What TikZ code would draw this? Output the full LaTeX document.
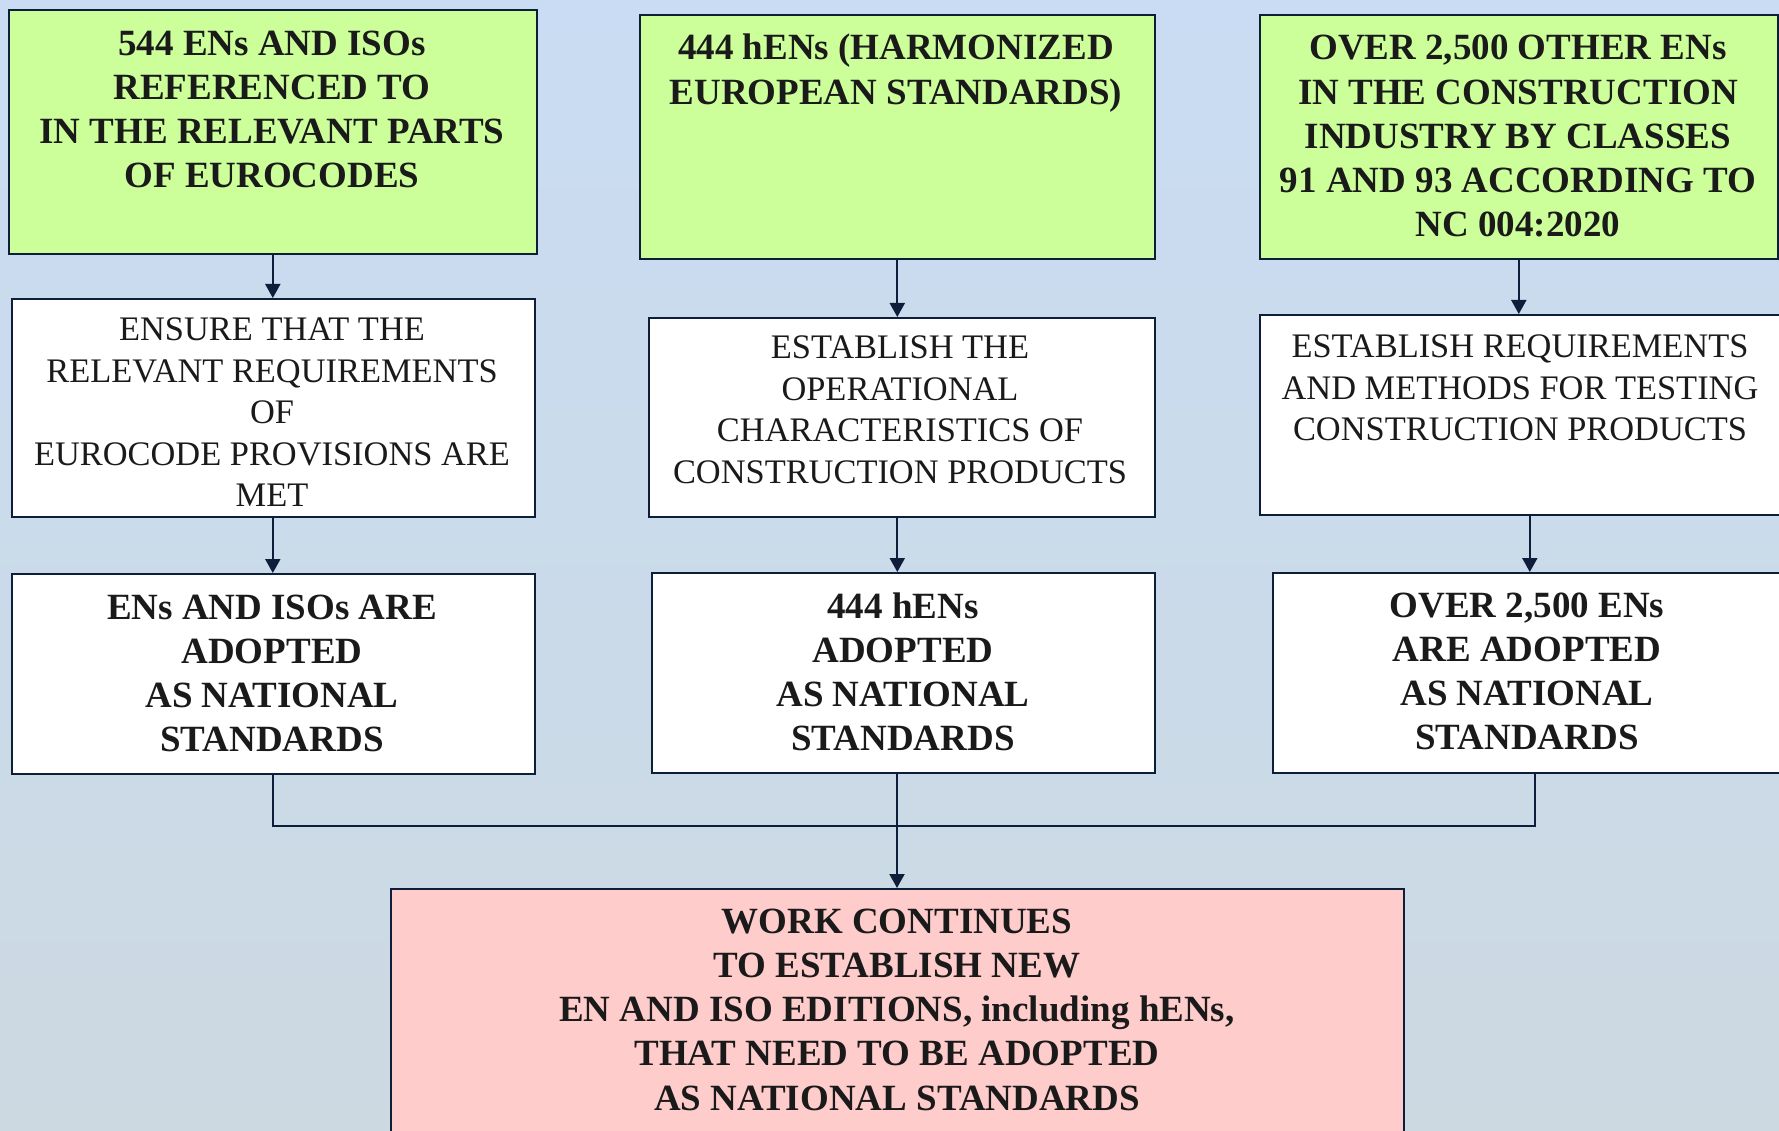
\documentclass[tikz,border=0pt]{standalone}
\usepackage{fontspec}
\setmainfont{Liberation Serif}
\usetikzlibrary{arrows.meta,calc}

\definecolor{edgeblue}{RGB}{12,30,58}
\definecolor{inkgray}{RGB}{26,26,26}
\definecolor{greenfill}{RGB}{204,255,153}
\definecolor{pinkfill}{RGB}{255,204,204}
\definecolor{skytop}{RGB}{201,220,243}
\definecolor{skymid}{RGB}{207,224,245}
\definecolor{skybot}{RGB}{204,217,225}

\tikzset{
  panel/.style={draw=edgeblue, line width=1.6pt, rectangle, inner sep=0pt},
  greenpanel/.style={panel, fill=greenfill},
  whitepanel/.style={panel, fill=white},
  pinkpanel/.style={panel, fill=pinkfill},
  headtext/.style={inner sep=0pt, anchor=north, align=center, text=inkgray,
    font=\bfseries\fontsize{37}{44.2}\selectfont},
  plaintext/.style={inner sep=0pt, anchor=north, align=center, text=inkgray,
    font=\fontsize{34.4}{41.5}\selectfont},
  flow/.style={draw=edgeblue, line width=2pt, -{Triangle[width=15pt,length=14pt]}},
  link/.style={draw=edgeblue, line width=2pt},
}

\begin{document}
\begin{tikzpicture}[x=1pt, y=-1pt]
\useasboundingbox (0,0) rectangle (1779,1131);
\clip (0,0) rectangle (1779,1131);

% sky background
\shade[top color=skytop, middle color=skymid, bottom color=skybot]
  (0,0) rectangle (1779,1131);

% first row: sources of standards
\node[greenpanel, minimum width=528pt, minimum height=244pt, anchor=north west] (a1) at (8,9) {};
\node[greenpanel, minimum width=515pt, minimum height=244pt, anchor=north west] (b1) at (639,14) {};
\node[greenpanel, minimum width=518pt, minimum height=244pt, anchor=north west] (c1) at (1259,14) {};

% second row: purpose
\node[whitepanel, minimum width=523pt, minimum height=218pt, anchor=north west] (a2) at (11,298) {};
\node[whitepanel, minimum width=506pt, minimum height=199pt, anchor=north west] (b2) at (648,317) {};
\node[whitepanel, minimum width=540pt, minimum height=200pt, anchor=north west] (c2) at (1259,314) {};

% third row: adoption
\node[whitepanel, minimum width=523pt, minimum height=200pt, anchor=north west] (a3) at (11,573) {};
\node[whitepanel, minimum width=503pt, minimum height=200pt, anchor=north west] (b3) at (651,572) {};
\node[whitepanel, minimum width=524pt, minimum height=200pt, anchor=north west] (c3) at (1272,572) {};

% ongoing work
\node[pinkpanel, minimum width=1013pt, minimum height=262pt, anchor=north west] (d) at (390,888) {};

% texts
\node[headtext] (a1t) at (272,30.6) {544 ENs AND ISOs\\REFERENCED TO\\IN THE RELEVANT PARTS\\OF EUROCODES};
\node[headtext] (b1t) at (896,34) {444 hENs (HARMONIZED\\EUROPEAN STANDARDS)};
\node[headtext] (c1t) at (1518,35) {OVER 2,500 OTHER ENs\\IN THE CONSTRUCTION\\INDUSTRY BY CLASSES\\91 AND 93 ACCORDING TO\\NC 004:2020};

\node[plaintext] (a2t) at (272,317.6) {ENSURE THAT THE\\RELEVANT REQUIREMENTS\\OF\\EUROCODE PROVISIONS ARE\\MET};
\node[plaintext] (b2t) at (900,336) {ESTABLISH THE\\OPERATIONAL\\CHARACTERISTICS OF\\CONSTRUCTION PRODUCTS};
\node[plaintext] (c2t) at (1520,335) {ESTABLISH REQUIREMENTS\\AND METHODS FOR TESTING\\CONSTRUCTION PRODUCTS};

\node[headtext] (a3t) at (272,594.5) {ENs AND ISOs ARE\\ADOPTED\\AS NATIONAL\\STANDARDS};
\node[headtext] (b3t) at (903,592.5) {444 hENs\\ADOPTED\\AS NATIONAL\\STANDARDS};
\node[headtext] (c3t) at (1527,592.5) {OVER 2,500 ENs\\ARE ADOPTED\\AS NATIONAL\\STANDARDS};

\node[headtext] (dt) at (897,908.5) {WORK CONTINUES\\TO ESTABLISH NEW\\EN AND ISO EDITIONS, including hENs,\\THAT NEED TO BE ADOPTED\\AS NATIONAL STANDARDS};

% column arrows
\draw[flow] (a1.south) -- (a1.south |- a2.north);
\draw[flow] (a2.south -| a1.south) -- (a3.north -| a1.south);
\draw[flow] (b1.south) -- (b1.south |- b2.north);
\draw[flow] (b2.south -| b1.south) -- (b3.north -| b1.south);
\draw[flow] (c1.south) -- (c1.south |- c2.north);
\draw[flow] (c2.south) -- (c2.south |- c3.north);

% merge into the ongoing work
\coordinate (join) at (897,826);
\draw[link] (a3.south -| a1.south) |- (join);
\draw[link] (c3.south) |- (join);
\draw[link] (b3.south -| join) -- (join);
\draw[flow] (join) -- (join |- d.north);
\end{tikzpicture}
\end{document}
